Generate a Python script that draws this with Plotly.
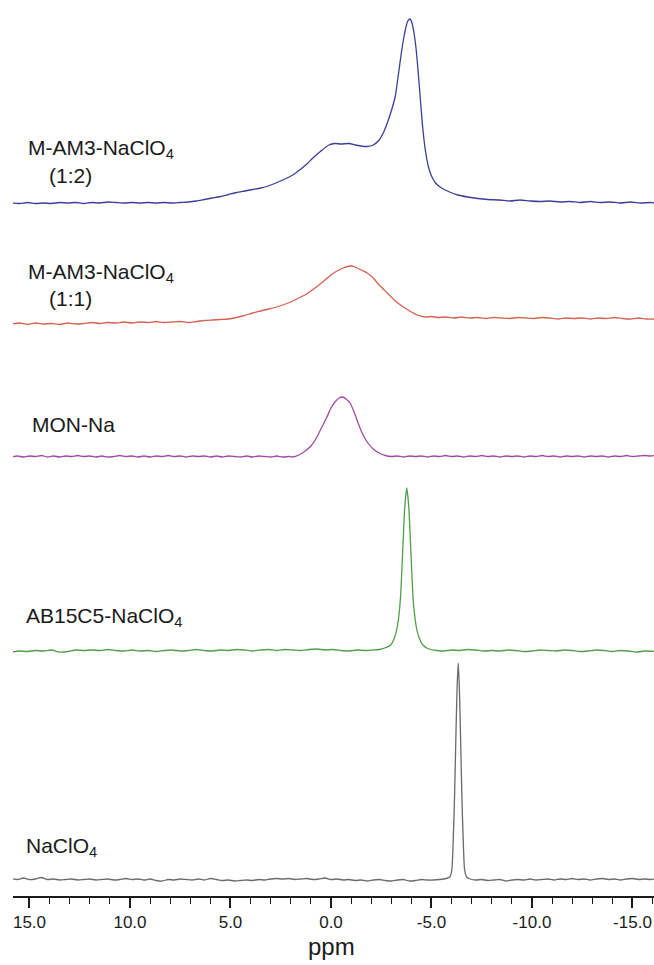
import plotly.graph_objects as go

# ---- data: (ppm, intensity above own baseline) ----
naclo4 = [(15.9, 1.5), (15.6, 0.5), (15.3, 2), (15.0, 0.5), (14.7, 1), (14.4, 2.5), (14.1, 0.5),
          (13.8, 1), (13.5, 0), (13.2, 0.5), (12.9, 1), (12.6, 0), (12.3, 0.5), (12.0, 1), (11.7, 0),
          (11.4, 0.5), (11.1, 1), (10.8, 0), (10.5, 0.5), (10.2, 1.5), (9.9, 0.5), (9.6, 1), (9.3, 0),
          (9.0, 1), (8.7, -0.5), (8.4, -1), (8.1, 0.5), (7.8, 0), (7.5, 1), (7.2, 0.5), (6.9, 0),
          (6.6, 1), (6.3, 0), (6.0, 1.5), (5.7, 0.5), (5.4, -0.5), (5.1, 0), (4.8, -1), (4.5, -0.5),
          (4.2, 0), (3.9, -0.5), (3.6, 0.5), (3.3, 0), (3.0, 1), (2.7, 1.5), (2.4, 1), (2.1, 1.5),
          (1.8, 0.5), (1.5, 1), (1.2, 1.5), (0.9, 0.5), (0.6, 1), (0.3, 2), (0.0, 0.5), (-0.3, 1),
          (-0.6, 0), (-0.9, 0.5), (-1.2, -0.5), (-1.5, 0), (-1.8, -1), (-2.1, 0), (-2.4, 0.5),
          (-2.7, -0.5), (-3.0, -1), (-3.3, 0), (-3.6, 0.5), (-3.9, -1), (-4.2, -0.5), (-4.5, 0.5),
          (-4.8, 0), (-5.1, 0), (-5.4, 0.5), (-5.73, 1.5), (-5.91, 3), (-6.01, 10), (-6.09, 45),
          (-6.15, 85), (-6.21, 140), (-6.27, 190), (-6.33, 217), (-6.39, 190), (-6.45, 140),
          (-6.51, 85), (-6.57, 45), (-6.65, 10), (-6.75, 3), (-6.93, 1), (-7.2, 0), (-7.5, 0.5),
          (-7.8, -0.5), (-8.1, 0), (-8.4, 0.5), (-8.7, -1), (-9.0, 0), (-9.3, 0.5), (-9.6, 0),
          (-9.9, 1), (-10.2, 0), (-10.5, 0.5), (-10.8, 1), (-11.1, 0), (-11.4, 1), (-11.7, 0.5),
          (-12.0, 1.5), (-12.3, 0.5), (-12.6, 1), (-12.9, 0), (-13.2, 1), (-13.5, 1.5), (-13.8, 0.5),
          (-14.1, 1), (-14.4, 0), (-14.7, 1), (-15.0, 1.5), (-15.3, 0.5), (-15.6, 1), (-15.9, 0.5),
          (-16.1, 1)]

ab15c5 = [(15.9, 0), (15.5, 1), (15.1, 0.5), (14.7, 1.5), (14.3, 1), (13.9, 2), (13.5, 0),
          (13.1, 0.5), (12.7, 2), (12.3, 1.5), (11.9, 2), (11.5, 1.5), (11.1, 2.5), (10.7, 1.5),
          (10.3, 1), (9.9, 2), (9.5, 1), (9.1, 1.5), (8.7, 0.5), (8.3, 1.5), (7.9, 2), (7.5, 1),
          (7.1, 1.5), (6.7, 2.5), (6.3, 1.5), (5.9, 1), (5.5, 2), (5.1, 1.5), (4.7, 2.5), (4.3, 2),
          (3.9, 1), (3.5, 2), (3.1, 2.5), (2.7, 1.5), (2.3, 2.5), (1.9, 2), (1.5, 1.5), (1.1, 2.5),
          (0.7, 3), (0.3, 2), (-0.1, 2.5), (-0.5, 1.5), (-0.9, 1), (-1.3, 2), (-1.7, 1.5), (-2.1, 2),
          (-2.4, 2.5), (-2.67, 4), (-2.97, 7), (-3.17, 15), (-3.32, 28), (-3.45, 52), (-3.57, 102),
          (-3.67, 145), (-3.77, 164), (-3.87, 145), (-3.97, 102), (-4.09, 52), (-4.22, 28),
          (-4.37, 15), (-4.57, 7), (-4.87, 3), (-5.27, 1.5), (-5.6, 1), (-6.0, 2), (-6.4, 1.5),
          (-6.8, 2.5), (-7.2, 2), (-7.6, 1), (-8.0, 1.5), (-8.4, 1), (-8.8, 2), (-9.2, 1.5),
          (-9.6, 0.5), (-10.0, 1), (-10.4, 2), (-10.8, 1.5), (-11.2, 1), (-11.6, 2), (-12.0, 1.5),
          (-12.4, 0.5), (-12.8, 1), (-13.2, 2), (-13.6, 1.5), (-14.0, 0.5), (-14.4, 1.5), (-14.8, 1),
          (-15.2, 0), (-15.6, 1), (-16.1, 0.5)]

mon_na = [(15.9, 0), (15.6, 1), (15.3, 0), (15.0, 1), (14.7, 0.5), (14.4, 1.5), (14.1, 0),
          (13.8, 1), (13.5, 0), (13.2, 1), (12.9, 0.5), (12.6, 1.5), (12.3, 0.5), (12.0, 1),
          (11.7, 0), (11.4, 1), (11.1, 0), (10.8, 0.5), (10.5, 1.5), (10.2, 0.5), (9.9, 1), (9.6, 0),
          (9.3, 1), (9.0, 0), (8.7, 1), (8.4, 0.5), (8.1, 1.5), (7.8, 0.5), (7.5, 1), (7.2, 0),
          (6.9, 1), (6.6, 0.5), (6.3, 1), (6.0, 0), (5.7, 1), (5.4, 0), (5.1, 1), (4.8, 0.5),
          (4.5, 0), (4.2, 1), (3.9, 0), (3.6, 1), (3.3, 0.5), (3.0, 0), (2.7, 1), (2.4, 0),
          (2.1, 0.5), (1.9, 0), (1.6, 2), (1.35, 5), (1.0, 11), (0.7, 20), (0.45, 30), (0.2, 40),
          (0.0, 49), (-0.2, 55), (-0.4, 59), (-0.57, 60), (-0.75, 58), (-0.95, 54), (-1.15, 45),
          (-1.35, 34), (-1.55, 24), (-1.8, 15), (-2.1, 8), (-2.4, 4), (-2.7, 1.5), (-3.0, 0.5),
          (-3.3, 1), (-3.6, 0), (-3.9, 1), (-4.2, 0.5), (-4.5, 1), (-4.8, 0), (-5.1, 1), (-5.4, 0.5),
          (-5.7, 1.5), (-6.0, 0.5), (-6.3, 1), (-6.6, 0), (-6.9, 1), (-7.2, 0.5), (-7.5, 1.5),
          (-7.8, 0.5), (-8.1, 1), (-8.4, 0), (-8.7, 1), (-9.0, 0.5), (-9.3, 1), (-9.6, 0),
          (-9.9, 1), (-10.2, 0.5), (-10.5, 1.5), (-10.8, 0.5), (-11.1, 1), (-11.4, 0), (-11.7, 1),
          (-12.0, 0.5), (-12.3, 1), (-12.6, 0), (-12.9, 1), (-13.2, 0.5), (-13.5, 1), (-13.8, 0),
          (-14.1, 1), (-14.4, 0.5), (-14.7, 1.5), (-15.0, 0.5), (-15.3, 1), (-15.6, 1.5),
          (-15.9, 1), (-16.1, 1.5)]

mam3_11 = [(15.9, -2), (15.5, -1), (15.1, -2.5), (14.7, -1), (14.3, -2), (13.9, -1.5), (13.5, -2.5),
           (13.1, -1), (12.7, -2), (12.3, -1.5), (11.9, -0.5), (11.5, -1.5), (11.1, -0.5),
           (10.7, -1), (10.3, 0), (9.9, -1), (9.5, 0), (9.1, -0.5), (8.7, 0.5), (8.3, -0.5),
           (7.9, 0), (7.5, 0.5), (7.1, -0.5), (6.7, 0.5), (6.3, 1.5), (5.9, 2), (5.5, 2.5), (5.1, 3),
           (4.7, 4.5), (4.3, 6.5), (3.9, 9), (3.5, 11), (3.1, 13), (2.7, 15), (2.4, 17), (2.0, 20),
           (1.6, 24), (1.3, 27), (1.0, 31), (0.6, 37), (0.3, 42), (0.0, 47), (-0.3, 51),
           (-0.6, 54), (-0.95, 56), (-1.2, 55), (-1.5, 52), (-1.8, 49), (-2.1, 44), (-2.4, 37),
           (-2.8, 29), (-3.2, 21), (-3.6, 15), (-4.0, 10), (-4.3, 7), (-4.7, 5), (-5.0, 5.5),
           (-5.3, 4.5), (-5.7, 5), (-6.1, 4), (-6.5, 5), (-6.9, 4), (-7.3, 4.5), (-7.7, 3.5),
           (-8.1, 4.5), (-8.5, 4), (-8.9, 3.5), (-9.3, 4.5), (-9.7, 4), (-10.1, 3.5), (-10.5, 4.5),
           (-10.9, 4), (-11.3, 3), (-11.7, 4), (-12.1, 3.5), (-12.5, 4), (-12.9, 3), (-13.3, 4),
           (-13.7, 3.5), (-14.1, 4.5), (-14.5, 3.5), (-14.9, 3), (-15.3, 4), (-15.7, 3),
           (-16.1, 3)]

mam3_12 = [(15.9, 0), (15.5, -0.5), (15.1, 0.5), (14.7, -0.5), (14.3, 0), (13.9, -0.5), (13.5, 0.5),
           (13.1, 0), (12.7, 0.5), (12.3, -0.5), (11.9, 0.5), (11.5, 0), (11.1, 1), (10.7, 0.5),
           (10.3, 0), (9.9, 0.5), (9.5, 0), (9.1, 0.5), (8.7, 0), (8.3, 0.5), (7.9, 0), (7.5, 0.5),
           (7.1, 1), (6.7, 2), (6.3, 3.5), (5.9, 5), (5.5, 6.5), (5.1, 8.5), (4.7, 10.5),
           (4.3, 12), (3.9, 13.5), (3.5, 15), (3.2, 16.5), (2.8, 19.5), (2.4, 23), (1.9, 28),
           (1.5, 34), (1.2, 39), (0.9, 45), (0.5, 52), (0.1, 58), (-0.2, 59.5), (-0.5, 59),
           (-0.9, 59.5), (-1.2, 58), (-1.5, 57), (-1.8, 56.5), (-2.1, 58), (-2.4, 63), (-2.6, 70),
           (-2.8, 80), (-3.0, 92), (-3.2, 107), (-3.35, 128), (-3.5, 150), (-3.62, 165),
           (-3.72, 175), (-3.82, 182), (-3.93, 184), (-4.03, 180), (-4.13, 170), (-4.23, 155),
           (-4.33, 133), (-4.45, 103), (-4.57, 74), (-4.7, 52), (-4.85, 36), (-5.0, 27),
           (-5.2, 20), (-5.5, 15), (-5.9, 11), (-6.3, 8), (-6.8, 6), (-7.3, 4.5), (-7.8, 3.5),
           (-8.4, 3), (-8.9, 2), (-9.4, 3), (-9.9, 2), (-10.4, 1.5), (-10.9, 2), (-11.4, 1),
           (-11.9, 1.5), (-12.4, 0.5), (-12.9, 1.5), (-13.4, 0.5), (-13.9, 1), (-14.4, 0),
           (-14.9, 1), (-15.4, 0), (-15.9, 0.5), (-16.1, 0)]

series_names = ["NaClO4", "AB15C5-NaClO4", "MON-Na", "M-AM3-NaClO4 (1:1)", "M-AM3-NaClO4 (1:2)"]
series_points = [naclo4, ab15c5, mon_na, mam3_11, mam3_12]
stack_offsets = [16, 244, 439, 574, 693]   # vertical offset of each spectrum's baseline

x_ticks = [15, 10, 5, 0, -5, -10, -15]
x_tick_labels = ["15.0", "10.0", "5.0", "0.0", "-5.0", "-10.0", "-15.0"]

# ---- styles ----
colors = ["#6a6a6a", "#4f9f47", "#a24aa2", "#d4624f", "#3e3e98"]
FONT = "Liberation Sans, Arial, sans-serif"
PLOT_L, PLOT_W, PLOT_H = 13, 641, 896

fig = go.Figure()
for name, pts, off, col in zip(series_names, series_points, stack_offsets, colors):
    fig.add_trace(go.Scatter(
        x=[p[0] for p in pts],
        y=[p[1] + off for p in pts],
        mode="lines", name=name,
        line=dict(color=col, width=1.3, shape="spline", smoothing=0.6),
        showlegend=False, hoverinfo="skip",
    ))

# label annotations: (text, x pixel, y pixel from top)
labels = [
    ("M-AM3-NaClO<sub>4</sub>", 26, 149),
    ("(1:2)", 47, 175),
    ("M-AM3-NaClO<sub>4</sub>", 26, 273),
    ("(1:1)", 47, 299),
    ("MON-Na", 30, 424),
    ("AB15C5-NaClO<sub>4</sub>", 24, 617),
    ("NaClO<sub>4</sub>", 24, 847),
]
for txt, px, py in labels:
    fig.add_annotation(
        text=txt, x=(px - PLOT_L) / PLOT_W, xref="paper",
        y=(PLOT_H - py) / PLOT_H, yref="paper",
        xanchor="left", yanchor="middle", showarrow=False,
        font=dict(family=FONT, size=21, color="#1a1a1a"),
    )

fig.add_annotation(text="ppm", x=(331 - PLOT_L) / PLOT_W, xref="paper",
                   y=(PLOT_H - 946) / PLOT_H, yref="paper", xanchor="center",
                   yanchor="middle", showarrow=False,
                   font=dict(family=FONT, size=24, color="#1a1a1a"))

fig.update_layout(
    width=654, height=965,
    margin=dict(l=PLOT_L, r=0, t=0, b=965 - PLOT_H),
    paper_bgcolor="white", plot_bgcolor="white",
    xaxis=dict(
        range=[15.82, -16.07], showgrid=False, zeroline=False,
        showline=True, linecolor="#1a1a1a", linewidth=2,
        ticks="outside", ticklen=10, tickwidth=1.5, tickcolor="#1a1a1a",
        tickvals=x_ticks, ticktext=x_tick_labels,
        tickfont=dict(family=FONT, size=17, color="#1a1a1a"),
        minor=dict(ticks="outside", ticklen=6, tickwidth=1.3, tickcolor="#1a1a1a", dtick=1,
                   showgrid=False),
        automargin=False,
    ),
    yaxis=dict(range=[0, PLOT_H], visible=False, showgrid=False, zeroline=False),
)

fig.write_html(
    "out.html",
    config={"displayModeBar": False},
    post_script="document.body.style.margin='0';document.body.style.overflow='hidden';",
)
